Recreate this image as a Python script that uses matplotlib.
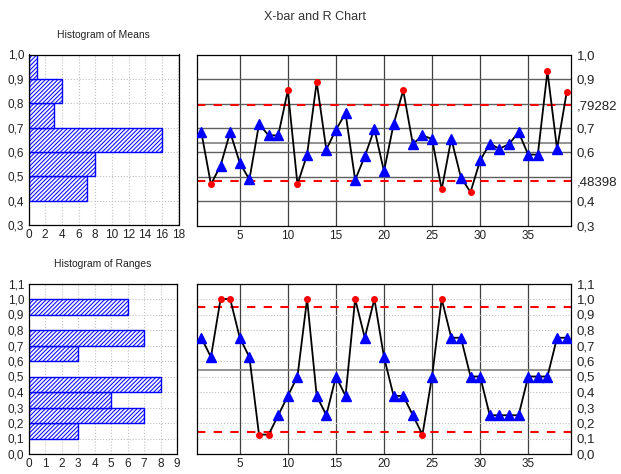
import matplotlib
matplotlib.use("Agg")
import matplotlib.pyplot as plt
import numpy as np

plt.rcParams['font.family'] = ['Liberation Sans', 'DejaVu Sans']
plt.rcParams['hatch.linewidth'] = 0.7

# sample means (X-bar) and ranges (R), 39 samples
means = [0.683, 0.469, 0.546, 0.683, 0.557, 0.489, 0.716, 0.670, 0.670, 0.855,
         0.469, 0.591, 0.889, 0.612, 0.693, 0.761, 0.487, 0.584, 0.696, 0.523,
         0.716, 0.855, 0.634, 0.670, 0.655, 0.448, 0.656, 0.497, 0.437, 0.567,
         0.636, 0.615, 0.634, 0.683, 0.591, 0.591, 0.933, 0.614, 0.847]
ranges = [0.75, 0.625, 1.0, 1.0, 0.75, 0.625, 0.125, 0.125, 0.25, 0.375,
          0.5, 1.0, 0.375, 0.25, 0.5, 0.375, 1.0, 0.75, 1.0, 0.625,
          0.375, 0.375, 0.25, 0.125, 0.5, 1.0, 0.75, 0.75, 0.5, 0.5,
          0.25, 0.25, 0.25, 0.25, 0.5, 0.5, 0.5, 0.75, 0.75]

x_ucl, x_lcl = 0.79282, 0.48398
r_ucl, r_lcl = 0.947, 0.141

# histogram counts
mean_bins = [0.4, 0.5, 0.6, 0.7, 0.8, 0.9]
mean_counts = [7, 8, 16, 3, 4, 1]
range_bins = [0.1, 0.2, 0.3, 0.4, 0.6, 0.7, 0.9]
range_counts = [3, 7, 5, 8, 3, 7, 6]

# tick labels (decimal comma)
mean_ticks = [0.3, 0.4, 0.5, 0.6, 0.7, 0.8, 0.9, 1.0]
mean_labels = ['0,3', '0,4', '0,5', '0,6', '0,7', '0,8', '0,9', '1,0']
xbar_ticks = [0.3, 0.4, x_lcl, 0.6, 0.7, x_ucl, 0.9, 1.0]
xbar_labels = ['0,3', '0,4', ',48398', '0,6', '0,7', ',79282', '0,9', '1,0']
range_ticks = [0.0, 0.1, 0.2, 0.3, 0.4, 0.5, 0.6, 0.7, 0.8, 0.9, 1.0, 1.1]
range_labels = ['0,0', '0,1', '0,2', '0,3', '0,4', '0,5', '0,6', '0,7', '0,8',
                '0,9', '1,0', '1,1']

W, H = 621, 474
fig = plt.figure(figsize=(W / 100, H / 100), dpi=100)


def box(l, t, r, b):
    return [l / W, 1 - b / H, (r - l) / W, (b - t) / H]


ax_hm = fig.add_axes(box(28.5, 54.5, 178.5, 225))
ax_x = fig.add_axes(box(197, 55, 571, 225.5))
ax_hr = fig.add_axes(box(28.5, 283.5, 177, 454))
ax_r = fig.add_axes(box(197, 283.5, 571, 454))

fig.text(0.508, 1 - 17.5 / H, 'X-bar and R Chart', ha='center', va='center',
         fontsize=9, color='#333333')

tick_fs = 8.5
txt_col = '#222222'


def histogram(ax, bins, counts, xmax, xstep, yticks, ylabels, title):
    ax.barh(bins, counts, height=0.1, align='edge', facecolor='#f2f3ff',
            edgecolor='#0000ff', hatch='////////', linewidth=1.0, zorder=2)
    ax.set_xlim(0, xmax)
    ax.set_ylim(yticks[0], yticks[-1])
    ax.set_xticks(np.arange(0, xmax + 1, xstep))
    ax.set_yticks(yticks)
    ax.set_yticklabels(ylabels)
    ax.grid(True, color='#c0c0c0', linestyle=':', linewidth=0.8, zorder=0)
    ax.set_axisbelow(True)
    ax.tick_params(labelsize=tick_fs, length=0, pad=3, labelcolor=txt_col)
    ax.set_title(title, fontsize=7.5, pad=12, color=txt_col)
    for s in ax.spines.values():
        s.set_linewidth(0.9)


histogram(ax_hm, mean_bins, mean_counts, 18, 2, mean_ticks, mean_labels,
          'Histogram of Means')
histogram(ax_hr, range_bins, range_counts, 9, 1, range_ticks, range_labels,
          'Histogram of Ranges')


def control(ax, vals, ucl, lcl, cl, ylim, yticks, ylabels, hgrid, hstyle):
    n = len(vals)
    xs = np.arange(1, n + 1)
    vals = np.array(vals)
    ax.set_xlim(0.55, n + 0.45)
    ax.set_ylim(*ylim)
    for v in [5, 10, 15, 20, 25, 30, 35]:
        ax.axvline(v, color='#404040', linewidth=0.9, zorder=1)
    for v in hgrid:
        ax.axhline(v, **hstyle, zorder=1)
    ax.axhline(cl, color='#808080', linewidth=1.2, zorder=1)
    ax.axhline(ucl, color='#ff0000', linestyle=(0, (4, 4)), linewidth=1.5, zorder=2)
    ax.axhline(lcl, color='#ff0000', linestyle=(0, (4, 4)), linewidth=1.5, zorder=2)
    ax.plot(xs, vals, color='black', linewidth=1.3, zorder=3)
    out = (vals > ucl) | (vals < lcl)
    ax.plot(xs[~out], vals[~out], linestyle='none', marker='^', markersize=7.5,
            color='#0000ff', zorder=4)
    ax.plot(xs[out], vals[out], linestyle='none', marker='o', markersize=4,
            color='#ff0000', zorder=4)
    ax.set_xticks([5, 10, 15, 20, 25, 30, 35])
    ax.set_yticks(yticks)
    ax.set_yticklabels(ylabels)
    ax.yaxis.tick_right()
    ax.tick_params(labelsize=tick_fs, length=0, pad=3, labelcolor=txt_col)
    ax.tick_params(axis='y', labelsize=9.5, pad=4)
    for s in ax.spines.values():
        s.set_linewidth(0.9)


control(ax_x, means, x_ucl, x_lcl, (x_ucl + x_lcl) / 2, (0.3, 1.0),
        xbar_ticks, xbar_labels, [0.4, 0.5, 0.6, 0.7, 0.8, 0.9],
        dict(color='#606060', linewidth=1.0))
control(ax_r, ranges, r_ucl, r_lcl, np.mean(ranges), (0.0, 1.1),
        range_ticks, range_labels, [0.1 * i for i in range(1, 11)],
        dict(color='#c0c0c0', linestyle=':', linewidth=0.8))

fig.savefig('out.png', dpi=100)
